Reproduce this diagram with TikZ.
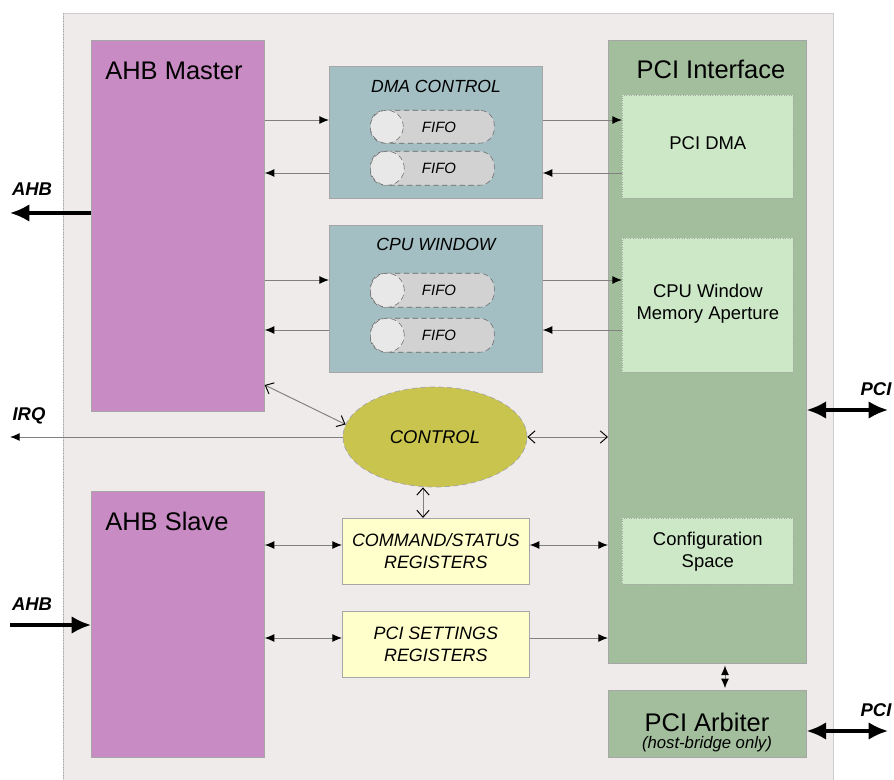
\documentclass[tikz,border=0pt]{standalone}
\usepackage{fontspec}
\setmainfont{Liberation Sans}
\usetikzlibrary{
	arrows.meta,
	positioning,
	shapes.geometric
}
\definecolor{BgGray}{HTML}{EFEBEB}
\definecolor{AhbPink}{HTML}{C88BC3}
\definecolor{FifoBlue}{HTML}{A3BFC4}
\definecolor{PciGreen}{HTML}{A3BE9D}
\definecolor{SubGreen}{HTML}{CCE8C7}
\definecolor{CtrlOlive}{HTML}{C8C44E}
\definecolor{RegYellow}{HTML}{FFFFCC}
\definecolor{FifoGray}{HTML}{D2D2D2}
\definecolor{FifoLight}{HTML}{E8E8E8}

\begin{document}
\begin{tikzpicture}[x=0.02cm, y=-0.02cm,
		blk/.style 2 args={draw=gray!70, line width=0.4pt, anchor=north west, inner sep=0pt,
			minimum width=#1*0.02cm, minimum height=#2*0.02cm},
		big/.style={font=\fontsize{14.5}{16}\selectfont, inner sep=0pt},
		sub/.style={font=\fontsize{10.5}{12.5}\selectfont, align=center},
		ital/.style={font=\fontsize{10}{12}\selectfont\itshape, align=center},
		ext/.style={font=\fontsize{10.5}{12}\selectfont\bfseries\itshape},
		pill/.style={draw=gray!80!black, densely dashed, line width=0.3pt, fill=FifoGray,
			rounded corners=8.5pt, anchor=north west, inner sep=0pt,
			minimum width=124*0.02cm, minimum height=34*0.02cm},
		plug/.style={circle, draw=gray!80!black, densely dashed, line width=0.3pt, fill=FifoLight,
			inner sep=0pt, minimum size=34*0.02cm, anchor=west},
		link/.style={draw=gray, line width=0.55pt, -{Latex[length=5.5pt,width=4.5pt,color=black]}},
		dlink/.style={draw=gray, line width=0.55pt,
			{Latex[length=5.5pt,width=4.5pt,color=black]}-{Latex[length=5.5pt,width=4.5pt,color=black]}},
		olink/.style={draw=gray, line width=0.55pt,
			{Straight Barb[length=4pt,width=7pt,color=black]}-{Straight Barb[length=4pt,width=7pt,color=black]}},
		bus/.style={line width=1.8pt, -{Latex[length=11pt,width=10pt]}},
		dbus/.style={line width=1.8pt, {Latex[length=11pt,width=10pt]}-{Latex[length=11pt,width=10pt]}}
	]
	\useasboundingbox (0,0) rectangle (894,780);
	% chip outline
	\fill[BgGray] (63,13) rectangle (833,780);
	\draw[gray!40, line width=0.5pt] (63,780) -- (63,13) -- (833,13) -- (833,780);
	\draw[gray!70, densely dotted, line width=0.5pt] (63,13) -- (63,780);

	% AHB side
	\node[blk={173}{371}, fill=AhbPink] (master) at (91,40) {};
	\node[big, anchor=base west] (masterT) at (105,80) {AHB Master};
	\node[blk={173}{266}, fill=AhbPink] (slave) at (91,491) {};
	\node[big, anchor=base west] (slaveT) at (105,531) {AHB Slave};

	% DMA control
	\node[blk={213}{132}, fill=FifoBlue] (dma) at (329,66) {};
	\node[ital, anchor=base] (dmaT) at (436,93) {DMA CONTROL};
	\node[pill, minimum height=33*0.02cm] (dmaF1) at (370,110) {};
	\node[plug, minimum size=33*0.02cm] (dmaC1) at (dmaF1.west) {};
	\node[font=\fontsize{8.5}{10}\selectfont\itshape] (dmaL1) at (439,127) {FIFO};
	\node[pill] (dmaF2) at (370,151) {};
	\node[plug] (dmaC2) at (dmaF2.west) {};
	\node[font=\fontsize{8.5}{10}\selectfont\itshape] (dmaL2) at (439,168) {FIFO};

	% CPU window
	\node[blk={213}{147}, fill=FifoBlue] (cpu) at (329,225) {};
	\node[ital, anchor=base] (cpuT) at (436,251) {CPU WINDOW};
	\node[pill] (cpuF1) at (370,273) {};
	\node[plug] (cpuC1) at (cpuF1.west) {};
	\node[font=\fontsize{8.5}{10}\selectfont\itshape] (cpuL1) at (439,290) {FIFO};
	\node[pill] (cpuF2) at (370,318) {};
	\node[plug] (cpuC2) at (cpuF2.west) {};
	\node[font=\fontsize{8.5}{10}\selectfont\itshape] (cpuL2) at (439,335) {FIFO};

	% PCI side
	\node[blk={198}{623}, fill=PciGreen] (pci) at (608,40) {};
	\node[big, anchor=base] (pciT) at (711,79) {PCI Interface};
	\node[blk={171}{103}, fill=SubGreen, densely dotted] (pcidma) at (622,95) {};
	\node[sub] at ([yshift=2pt]pcidma.center) {PCI DMA};
	\node[blk={171}{134}, fill=SubGreen, densely dotted] (cpuwin) at (622,238) {};
	\node[sub] at ([yshift=1pt]cpuwin.center) {CPU Window\\Memory Aperture};
	\node[blk={171}{66}, fill=SubGreen, densely dotted] (cfg) at (622,518) {};
	\node[sub] at (cfg.center) {Configuration\\Space};
	\node[blk={198}{67}, fill=PciGreen] (arb) at (608,690) {};
	\node[big, anchor=base] (arbT) at (707,732) {PCI Arbiter};
	\node[font=\fontsize{9.5}{10}\selectfont\itshape, anchor=base] (arbS) at (707,749) {(host-bridge only)};

	% control and registers
	\node[ellipse, draw=gray!70, densely dashed, line width=0.4pt, fill=CtrlOlive,
		minimum width=184*0.02cm, minimum height=100*0.02cm, inner sep=0pt,
		font=\fontsize{10.5}{12}\selectfont\itshape] (ctrl) at (435,437) {CONTROL};
	\node[blk={187}{66}, fill=RegYellow] (cmd) at (342,518) {};
	\node[ital, font=\fontsize{10.2}{12.5}\selectfont\itshape] at (cmd.center) {COMMAND/STATUS\\REGISTERS};
	\node[blk={187}{66}, fill=RegYellow] (set) at (342,611) {};
	\node[ital, font=\fontsize{10.2}{12.5}\selectfont\itshape] at (set.center) {PCI SETTINGS\\REGISTERS};

	% outside ends
	\coordinate (ahbOut) at (10,213);
	\coordinate (ahbIn) at (10,625);
	\coordinate (irqOut) at (10,437);
	\coordinate (pciOut) at (888,410);
	\coordinate (arbOut) at (888,731);

	% internal connectors
	\draw[link] (master.east |- 0,120) -- (dma.west |- 0,120);
	\draw[link] (dma.west |- 0,173) -- (master.east |- 0,173);
	\draw[link] (dma.east |- 0,120) -- (pcidma.west |- 0,120);
	\draw[link] (pcidma.west |- 0,173) -- (dma.east |- 0,173);
	\draw[link] (master.east |- 0,280) -- (cpu.west |- 0,280);
	\draw[link] (cpu.west |- 0,330) -- (master.east |- 0,330);
	\draw[link] (cpu.east |- 0,280) -- (cpuwin.west |- 0,280);
	\draw[link] (cpuwin.west |- 0,330) -- (cpu.east |- 0,330);
	\draw[olink] (master.east |- 0,385) -- (ctrl.172);
	\draw[link] (ctrl.west) -- (irqOut);
	\draw[olink] (ctrl.east) -- (pci.west |- ctrl.east);
	\draw[olink] (ctrl.south -| 423,0) -- (cmd.north -| 423,0);
	\draw[dlink] (slave.east |- 0,545) -- (cmd.west |- 0,545);
	\draw[dlink] (cmd.east |- 0,545) -- (pci.west |- 0,545);
	\draw[dlink] (slave.east |- 0,638) -- (set.west |- 0,638);
	\draw[link] (set.east |- 0,638) -- (pci.west |- 0,638);
	\draw[dlink, shorten <=1pt, shorten >=1pt] (pci.south -| 725,0) -- (arb.north -| 725,0);

	% buses
	\draw[bus] (master.west |- ahbOut) -- (ahbOut);
	\draw[bus] (ahbIn) -- (slave.west |- ahbIn);
	\draw[dbus] (pci.east |- pciOut) -- (pciOut);
	\draw[dbus] (arb.east |- arbOut) -- (arbOut);
	\node[ext, anchor=base] (ahbOutL) at (32,196) {AHB};
	\node[ext, anchor=base] (ahbInL) at (32,611) {AHB};
	\node[ext, anchor=base] (irqL) at (29,421) {IRQ};
	\node[ext, anchor=base] (pciL) at (876,396) {PCI};
	\node[ext, anchor=base] (arbL) at (876,717) {PCI};
\end{tikzpicture}
\end{document}
